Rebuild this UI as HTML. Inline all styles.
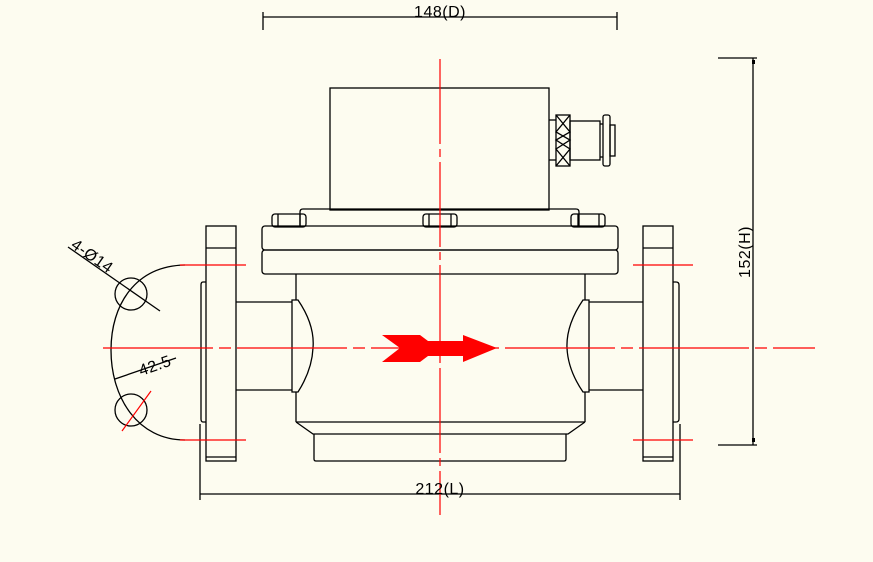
<!DOCTYPE html>
<html><head><meta charset="utf-8"><style>
html,body{margin:0;padding:0;background:#fdfcf0;}
svg{display:block;}
text{font-family:"Liberation Sans",sans-serif;font-size:16px;fill:#000;letter-spacing:0.5px;}
</style></head><body>
<svg width="873" height="562" viewBox="0 0 873 562" xmlns="http://www.w3.org/2000/svg">
<rect width="873" height="562" fill="#fdfcf0"/>
<g stroke="#000" stroke-width="1.3" fill="none">
<line x1="263" y1="17" x2="617" y2="17"/>
<line x1="263" y1="12" x2="263" y2="30"/><line x1="617" y1="12" x2="617" y2="30"/>
<rect x="330" y="88" width="219" height="122"/>
<line x1="549" y1="120" x2="556" y2="120"/><line x1="549" y1="160" x2="556" y2="160"/>
<rect x="556" y="115" width="14" height="51"/>
<path d="M556 115 L570 132 L556 140 L570 149 L556 166 M570 115 L556 132 L570 140 L556 149 L570 166"/>
<rect x="570" y="121" width="30" height="39"/>
<line x1="600" y1="124" x2="603" y2="124"/><line x1="600" y1="157" x2="603" y2="157"/>
<rect x="603" y="115" width="7" height="51" rx="2"/>
<rect x="610" y="125" width="5" height="31"/>
<path d="M300 227 L300 212 Q300 209 303 209 L576 209 Q579 209 579 212 L579 227"/>
<rect x="272" y="214" width="34" height="13" rx="3"/><line x1="278" y1="214" x2="278" y2="227"/><line x1="300" y1="214" x2="300" y2="227"/>
<rect x="423" y="214" width="34" height="13" rx="3"/><line x1="429" y1="214" x2="429" y2="227"/><line x1="451" y1="214" x2="451" y2="227"/>
<rect x="571" y="214" width="34" height="13" rx="3"/><line x1="578" y1="214" x2="578" y2="227"/><line x1="599" y1="214" x2="599" y2="227"/>
<rect x="262" y="226" width="356" height="24" rx="3"/>
<rect x="262" y="250" width="356" height="24" rx="3"/>
<line x1="296" y1="274" x2="296" y2="300"/><line x1="296" y1="392" x2="296" y2="422"/>
<line x1="585" y1="274" x2="585" y2="300"/><line x1="585" y1="392" x2="585" y2="422"/>
<line x1="296" y1="422" x2="585" y2="422"/>
<path d="M296 422 L313 434 L568 434 L585 422"/>
<path d="M314 434 L314 459 Q314 461 316 461 L564 461 Q566 461 566 459 L566 434"/>
<path d="M292 300 L298 300 Q315 325 313 348 Q312 370 298 392 L292 392 Z"/>
<path d="M589 300 L583 300 Q566 325 567 348 Q568 370 583 392 L589 392 Z"/>
<line x1="236" y1="302" x2="292" y2="302"/><line x1="236" y1="390" x2="292" y2="390"/>
<line x1="589" y1="302" x2="643" y2="302"/><line x1="589" y1="390" x2="643" y2="390"/>
<rect x="206" y="226" width="30" height="235"/>
<line x1="206" y1="248" x2="236" y2="248"/><line x1="206" y1="457" x2="236" y2="457"/>
<path d="M206 282 L203 282 Q201 282 201 285 L201 419 Q201 422 203 422 L206 422"/>
<rect x="643" y="226" width="30" height="235"/>
<line x1="643" y1="248" x2="673" y2="248"/><line x1="643" y1="457" x2="673" y2="457"/>
<path d="M673 282 L676 282 Q679 282 679 285 L679 419 Q679 422 676 422 L673 422"/>
<path d="M185 265 C135 266 111 305 111 350 C111 398 138 440 185 440"/>
<circle cx="131" cy="294" r="16"/>
<circle cx="131" cy="410" r="16"/>
<line x1="68" y1="247" x2="160" y2="311"/>
<line x1="115" y1="379" x2="176" y2="358"/>
<line x1="200" y1="494" x2="680" y2="494"/>
<line x1="200" y1="424" x2="200" y2="500"/><line x1="680" y1="424" x2="680" y2="500"/>
<line x1="753" y1="58" x2="753" y2="445"/>
<line x1="718" y1="58" x2="757" y2="58"/><line x1="718" y1="445" x2="757" y2="445"/>
</g>
<g fill="#000"><rect x="752" y="60" width="3" height="4"/><rect x="752" y="438" width="3" height="4"/></g>
<g stroke="#f00" stroke-width="1.2" fill="none">
<line x1="103" y1="348" x2="815" y2="348" stroke-dasharray="110,6,12,6"/>
<line x1="440" y1="59" x2="440" y2="515" stroke-dasharray="85,5,8,5"/>
<line x1="180" y1="265" x2="246" y2="265"/><line x1="180" y1="440" x2="246" y2="440"/>
<line x1="633" y1="265" x2="693" y2="265"/><line x1="633" y1="440" x2="693" y2="440"/>
<line x1="122" y1="431" x2="151" y2="391"/>
</g>
<polygon fill="#f00" points="382,335 420,335 428,341 463,341 463,335 497,348 463,362 463,356 428,356 420,362 382,362 400,348"/>
<text x="440" y="17" text-anchor="middle">148(D)</text>
<text x="440" y="494" text-anchor="middle">212(L)</text>
<text transform="translate(750,252) rotate(-90)" text-anchor="middle">152(H)</text>
<text transform="translate(70,247) rotate(35)">4-Ø14</text>
<text transform="translate(141,376) rotate(-19)">42.5</text>
</svg>
</body></html>
